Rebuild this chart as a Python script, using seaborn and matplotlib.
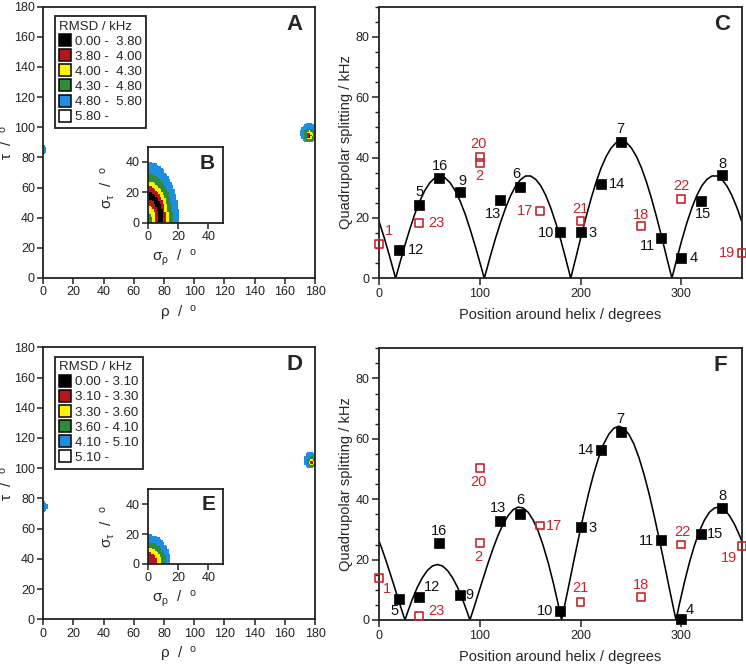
import numpy as np
import matplotlib
matplotlib.use("Agg")
import matplotlib.pyplot as plt
from matplotlib.colors import ListedColormap, BoundaryNorm
from matplotlib.lines import Line2D
from matplotlib.ticker import MultipleLocator
import seaborn as sns

# ---------------------------------------------------------------- data
# RMSD level colours (black, red, yellow, green, blue, white)
level_colors = ["#000000", "#b3161c", "#fff200", "#2e8b3a", "#1e8fe0", "#ffffff"]
A_legend_labels = ["0.00 -  3.80", "3.80 -  4.00", "4.00 -  4.30",
                   "4.30 -  4.80", "4.80 -  5.80", "5.80 -"]
D_legend_labels = ["0.00 - 3.10", "3.10 - 3.30", "3.30 - 3.60",
                   "3.60 - 4.10", "4.10 - 5.10", "5.10 -"]

# RMSD map (rho, tau) regions: level, centre rho, centre tau, half-widths
A_blob_level = [4, 3, 2, 1, 0, 4]
A_blob_rho = [176.3, 176.5, 176.6, 176.4, 176.3, 0.0]
A_blob_tau = [96.2, 95.0, 94.9, 94.5, 94.2, 85.0]
A_blob_wrho = [6.0, 3.8, 2.0, 1.3, 0.8, 2.0]
A_blob_wtau = [6.7, 4.6, 2.9, 1.8, 0.9, 3.5]

D_blob_level = [4, 3, 2, 1, 4]
D_blob_rho = [177.3, 178.0, 178.0, 177.9, 0.0]
D_blob_tau = [105.4, 104.4, 104.0, 103.9, 74.5]
D_blob_wrho = [4.5, 2.8, 1.8, 0.9, 3.0]
D_blob_wtau = [5.6, 3.2, 2.0, 1.0, 3.3]

# inset dynamics maps: band levels (outer -> inner) and elliptical band edges
B_band_level = [4, 3, 2, 1, 0, 1, 2, 3]
B_edge_srho = [21.0, 17.0, 14.0, 12.0, 10.5, 7.5, 5.5, 3.0]
B_edge_stau = [40.0, 32.5, 27.6, 24.1, 20.4, 15.4, 11.6, 7.2]
E_band_level = [4, 3, 2, 1]
E_edge_srho = [15.5, 12.5, 9.5, 6.5]
E_edge_stau = [20.0, 14.5, 11.0, 8.0]

# quadrupolar splitting curve (panel C)
C_curve_pos = [0, 0.5, 5.5, 10.5, 15.5, 16.5, 20.5, 25.5, 30.5, 35.5, 40.5, 45.5,
               50.5, 55.5, 60.5, 65.5, 70.5, 75.5, 80.5, 85.5, 90.5, 95.5, 100.5,
               104.5, 105.5, 110.5, 115.5, 120.5, 125.5, 130.5, 135.5, 140.5,
               145.5, 150.5, 155.5, 160.5, 165.5, 170.5, 175.5, 180.5, 185.5,
               190.3, 190.5, 195.5, 200.5, 205.5, 210.5, 215.5, 220.5, 225.5,
               230.5, 235.5, 240.5, 245.5, 250.5, 255.5, 260.5, 265.5, 270.5,
               275.5, 280.5, 285.5, 290.5, 290.7, 295.5, 300.5, 305.5, 310.5,
               315.5, 320.5, 325.5, 330.5, 335.5, 340.5, 345.5, 350.5, 355.5, 360]
C_curve_val = [18.9, 18.4, 13.1, 7.3, 1.2, 0.0, 4.8, 10.7, 16.2, 21.3, 25.6, 29.1,
               31.7, 33.3, 33.9, 33.3, 31.7, 29.1, 25.6, 21.3, 16.2, 10.7, 4.8,
               0.0, 1.2, 7.3, 13.1, 18.4, 23.2, 27.3, 30.5, 32.7,
               33.9, 33.9, 32.8, 30.7, 27.5, 23.3, 18.3, 12.6, 6.3,
               0.0, 0.3, 7.0, 13.8, 20.3, 26.4, 31.9, 36.6, 40.4,
               43.2, 45.0, 45.6, 45.0, 43.2, 40.4, 36.6, 31.9, 26.4,
               20.3, 13.8, 7.0, 0.3, 0.0, 6.3, 12.6, 18.3, 23.3,
               27.5, 30.7, 32.8, 33.9, 33.9, 32.7, 30.5, 27.3, 23.2, 18.9]

# quadrupolar splitting curve (panel F)
F_curve_pos = [0, 3, 8, 13, 18, 23, 25.8, 28, 33, 38, 43, 48, 53, 58, 63, 68, 73,
               78, 83, 88, 90.2, 93, 98, 103, 108, 113, 118, 123, 128, 133, 138,
               143, 148, 153, 158, 163, 168, 173, 178, 181.2, 183, 188, 193, 198,
               203, 208, 213, 218, 223, 228, 233, 238, 243, 248, 253, 258, 263,
               268, 273, 278, 283, 288, 293, 294.8, 298, 303, 308, 313, 318, 323,
               328, 333, 338, 343, 348, 353, 358, 360]
F_curve_val = [26.2, 23.5, 18.6, 13.4, 8.1, 2.8, 0.0, 2.2, 6.8, 10.8, 14.0, 16.4,
               17.9, 18.4, 17.9, 16.4, 14.0, 10.8, 6.8, 2.2, 0.0, 2.8, 8.1, 13.4,
               18.6, 23.5, 27.9, 31.6, 34.5, 36.5, 37.4, 37.1, 35.7, 33.1, 29.4,
               24.6, 18.9, 12.3, 5.0, 0.0, 2.8, 10.8, 19.0, 27.0, 34.7, 41.9, 48.3,
               53.8, 58.3, 61.5, 63.5, 64.2, 63.5, 61.5, 58.3, 53.8, 48.3, 41.9,
               34.7, 27.0, 19.0, 10.8, 2.8, 0.0, 5.0, 12.3, 18.9, 24.6, 29.4, 33.1,
               35.7, 37.1, 37.4, 36.5, 34.5, 31.6, 27.9, 26.2]

# measured splittings, panel C
C_black_pos = [20, 40, 60, 80, 120, 140, 180, 200, 220, 240, 280, 300, 320, 340]
C_black_val = [9.4, 24.3, 33.3, 28.7, 25.8, 30.2, 15.3, 15.2, 31.3, 45.2, 13.2, 6.8, 25.7, 34.3]
C_black_lab = ["12", "5", "16", "9", "13", "6", "10", "3", "14", "7", "11", "4", "15", "8"]
C_red_pos = [0, 40, 100, 100, 160, 200, 260, 300, 360]
C_red_val = [11.4, 18.4, 40.3, 38.3, 22.3, 18.9, 17.4, 26.3, 8.3]
C_red_lab = ["1", "23", "20", "2", "17", "21", "18", "22", "19"]

# measured splittings, panel F
F_black_pos = [20, 40, 60, 80, 120, 140, 180, 200, 220, 240, 280, 300, 320, 340]
F_black_val = [7.1, 7.5, 25.4, 8.4, 32.9, 35.0, 3.0, 30.9, 56.4, 62.3, 26.5, 0.4, 28.4, 37.0]
F_black_lab = ["5", "12", "16", "9", "13", "6", "10", "3", "14", "7", "11", "4", "15", "8"]
F_red_pos = [0, 40, 100, 100, 160, 200, 260, 300, 360]
F_red_val = [14.0, 1.4, 50.4, 25.4, 31.3, 6.0, 7.5, 25.0, 24.5]
F_red_lab = ["1", "23", "20", "2", "17", "21", "18", "22", "19"]

# ---------------------------------------------------------------- style
# label offsets (pixels) relative to each square
C_label_off = {"1": (10, 13), "12": (17, 0), "5": (0, 13), "23": (17, 0), "16": (1, 12),
               "9": (3, 11), "20": (-1, 13), "2": (0, -13), "13": (-7, -14), "6": (-4, 13),
               "17": (-15, 0), "10": (-14, -1), "3": (12, -1), "21": (0, 12), "14": (16, 0),
               "7": (0, 13), "18": (0, 11), "11": (-14, -8), "4": (12, 0), "22": (0, 13),
               "15": (2, -13), "8": (1, 11), "19": (-15, 0)}
F_label_off = {"1": (8, -11), "5": (-5, -12), "23": (17, 5), "12": (13, 10), "16": (0, 12),
               "9": (10, 0), "20": (-1, -14), "2": (-1, -14), "13": (-2, 13), "6": (0, 14),
               "17": (14, 0), "10": (-15, 0), "3": (12, -1), "21": (0, 14), "14": (-15, 0),
               "7": (0, 13), "18": (0, 12), "11": (-15, -1), "4": (8, 9), "22": (1, 13),
               "15": (14, 0), "8": (1, 12), "19": (-13, -12)}

RED = "#c8242b"
INK = "#222222"

sns.set_style("ticks")
plt.rcParams["font.family"] = ["Liberation Sans", "DejaVu Sans"]
plt.rcParams["mathtext.fontset"] = "custom"
plt.rcParams["mathtext.rm"] = "Liberation Sans"
plt.rcParams["axes.edgecolor"] = INK
plt.rcParams["axes.linewidth"] = 1.3
plt.rcParams["xtick.color"] = INK
plt.rcParams["ytick.color"] = INK
plt.rcParams["xtick.direction"] = "out"
plt.rcParams["ytick.direction"] = "out"

W, H = 746, 666
fig = plt.figure(figsize=(W / 100, H / 100), dpi=100)


def add_ax(l, t, r, b):
    return fig.add_axes([l / W, 1 - b / H, (r - l) / W, (b - t) / H])


cmap = ListedColormap(level_colors)
norm = BoundaryNorm(np.arange(-0.5, 6.5, 1), cmap.N)
DEG = r"$\mathregular{^o}$"


def draw_map(ax, lv, rc, tc, wr, wt):
    edges = np.arange(0, 181, 1.0)
    cen = 0.5 * (edges[:-1] + edges[1:])
    R, T = np.meshgrid(cen, cen)
    Z = np.full(R.shape, 5)
    for l, x0, y0, a, b in zip(lv, rc, tc, wr, wt):
        inside = ((R - x0) / a) ** 2 + ((T - y0) / b) ** 2 <= 1
        Z = np.where(inside, np.minimum(Z, l), Z)
    ax.pcolormesh(edges, edges, Z, cmap=cmap, norm=norm, shading="flat")
    ax.set_xlim(0, 180)
    ax.set_ylim(0, 180)
    ax.set_xticks(range(0, 181, 20))
    ax.set_yticks(range(0, 181, 20))
    ax.tick_params(labelsize=9, length=4, width=1.1, pad=2, labelcolor=INK)
    ax.set_xlabel("ρ  /  " + DEG, fontsize=11)
    ax.set_ylabel("τ  /  " + DEG, fontsize=11)
    ax.xaxis.set_label_coords(0.5, -0.096)
    ax.yaxis.set_label_coords(-0.104, 0.5)
    for s in ax.spines.values():
        s.set_visible(True)


def draw_inset(ax, lv, er, et, ylab_y):
    edges = np.arange(0, 51, 1.0)
    cen = 0.5 * (edges[:-1] + edges[1:])
    R, T = np.meshgrid(cen, cen)
    Z = np.full(R.shape, 5)
    for l, a, b in zip(lv, er, et):
        inside = (R / a) ** 2 + (T / b) ** 2 <= 1
        Z = np.where(inside, l, Z)
    ax.pcolormesh(edges, edges, Z, cmap=cmap, norm=norm, shading="flat")
    ax.set_xlim(0, 50)
    ax.set_ylim(0, 50)
    ax.set_xticks([0, 20, 40])
    ax.set_yticks([0, 20, 40])
    ax.tick_params(labelsize=9, length=4, width=1.1, pad=2, labelcolor=INK)
    ax.set_xlabel("σ$_\\mathregular{ρ}$  /  " + DEG, fontsize=11)
    ax.set_ylabel("σ$_\\mathregular{τ}$  /  " + DEG, fontsize=11)
    ax.xaxis.set_label_coords(0.36, -0.33)
    ax.yaxis.set_label_coords(-0.405, ylab_y)


def legend(ax, labels):
    handles = [Line2D([], [], marker="s", ls="none", markersize=8.5,
                      markerfacecolor=c, markeredgecolor="black", markeredgewidth=1.1)
               for c in level_colors]
    leg = ax.legend(handles, labels, title="RMSD / kHz", loc="upper left",
                    bbox_to_anchor=(0.042, 0.966), frameon=True, fancybox=False,
                    edgecolor=INK, fontsize=9.5, title_fontsize=9.5, handlelength=0.8,
                    handletextpad=0.35, labelspacing=0.22, borderpad=0.35,
                    borderaxespad=0)
    leg._legend_box.align = "left"
    leg.get_frame().set_linewidth(1.3)
    leg.get_frame().set_alpha(1)


def draw_splitting(ax, cpos, cval, bpos, bval, blab, rpos, rval, rlab, offs):
    sns.lineplot(x=cpos, y=cval, ax=ax, color="black", lw=1.15, estimator=None,
                 sort=False, zorder=2)
    sns.scatterplot(x=bpos, y=bval, ax=ax, marker="s", s=50, color="black",
                    edgecolor="black", linewidth=0.5, zorder=4)
    ax.collections[-1].set_clip_on(False)
    sns.scatterplot(x=rpos, y=rval, ax=ax, marker="s", s=32, color=RED,
                    linewidth=1.2, zorder=4)
    coll = ax.collections[-1]
    coll.set_facecolor("none")
    coll.set_edgecolor(RED)
    coll.set_clip_on(False)
    for x, y, t in zip(bpos, bval, blab):
        dx, dy = offs[t]
        ax.annotate(t, (x, y), xytext=(dx, dy), textcoords="offset pixels",
                    ha="center", va="center", fontsize=10.5, color="#111111")
    for x, y, t in zip(rpos, rval, rlab):
        dx, dy = offs[t]
        ax.annotate(t, (x, y), xytext=(dx, dy), textcoords="offset pixels",
                    ha="center", va="center", fontsize=10.5, color=RED)
    ax.set_xlim(0, 360)
    ax.set_ylim(0, 90)
    ax.set_xticks([0, 100, 200, 300])
    ax.set_yticks([0, 20, 40, 60, 80])
    ax.yaxis.set_minor_locator(MultipleLocator(5))
    ax.tick_params(which="major", labelsize=9, length=5, width=1.1, pad=2, labelcolor=INK)
    ax.tick_params(which="minor", length=3, width=1.0)
    ax.set_xlabel("Position around helix / degrees", fontsize=10.5)
    ax.set_ylabel("Quadrupolar splitting / kHz", fontsize=10.5)
    ax.xaxis.set_label_coords(0.5, -0.109)
    ax.yaxis.set_label_coords(-0.072, 0.5)
    for s in ax.spines.values():
        s.set_visible(True)


# ---------------------------------------------------------------- panels
axA = add_ax(43.3, 6.7, 315, 278)
draw_map(axA, A_blob_level, A_blob_rho, A_blob_tau, A_blob_wrho, A_blob_wtau)
legend(axA, A_legend_labels)
axA.text(0.926, 0.935, "A", transform=axA.transAxes, fontsize=16, fontweight="bold",
         ha="center", va="center")

axB = add_ax(147.7, 146.7, 223.4, 222.7)
draw_inset(axB, B_band_level, B_edge_srho, B_edge_stau, 0.47)
axB.text(0.78, 0.78, "B", transform=axB.transAxes, fontsize=15, fontweight="bold",
         ha="center", va="center")

axC = add_ax(379, 6.7, 741.7, 278.3)
draw_splitting(axC, C_curve_pos, C_curve_val, C_black_pos, C_black_val, C_black_lab,
               C_red_pos, C_red_val, C_red_lab, C_label_off)
axC.text(0.946, 0.935, "C", transform=axC.transAxes, fontsize=16, fontweight="bold",
         ha="center", va="center")

axD = add_ax(43.3, 347.3, 315, 619.3)
draw_map(axD, D_blob_level, D_blob_rho, D_blob_tau, D_blob_wrho, D_blob_wtau)
legend(axD, D_legend_labels)
axD.text(0.926, 0.935, "D", transform=axD.transAxes, fontsize=16, fontweight="bold",
         ha="center", va="center")

axE = add_ax(147.7, 489.4, 223.4, 564)
draw_inset(axE, E_band_level, E_edge_srho, E_edge_stau, 0.50)
axE.text(0.80, 0.80, "E", transform=axE.transAxes, fontsize=15, fontweight="bold",
         ha="center", va="center")

axF = add_ax(379, 348.3, 741.7, 620)
draw_splitting(axF, F_curve_pos, F_curve_val, F_black_pos, F_black_val, F_black_lab,
               F_red_pos, F_red_val, F_red_lab, F_label_off)
axF.text(0.94, 0.935, "F", transform=axF.transAxes, fontsize=16, fontweight="bold",
         ha="center", va="center")

fig.savefig("out.png", dpi=100)
